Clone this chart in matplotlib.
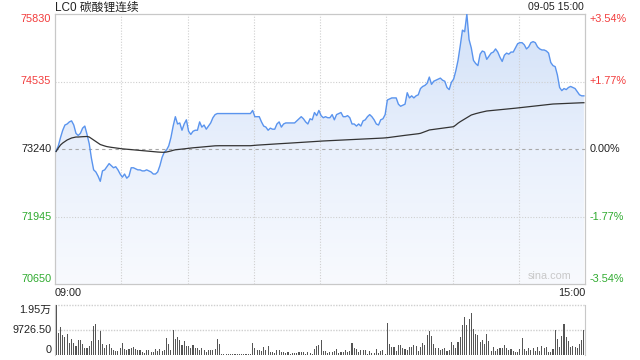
import matplotlib
matplotlib.use('Agg')
import matplotlib.pyplot as plt
import numpy as np
from matplotlib.colors import LinearSegmentedColormap
from matplotlib.patches import Polygon

plt.rcParams['font.family'] = ['Liberation Sans', 'Noto Sans CJK SC', 'DejaVu Sans']

# ---------------- data ----------------
title = "LC0 碳酸锂连续"
date_label = "09-05 15:00"
prev_close = 73240
price_ticks = [70650, 71945, 73240, 74535, 75830]
pct_labels = ["-3.54%", "-1.77%", "0.00%", "+1.77%", "+3.54%"]
time_labels = ["09:00", "15:00"]
vol_ticks = [0, 9726.50, 19453]
vol_labels = ["0", "9726.50", "1.95万"]
watermark = "sina.com"

price = [
    73200, 73300, 73460, 73600, 73700, 73720, 73760, 73780, 73700, 73540,
    73500, 73540, 73640, 73680, 73520, 73340, 73060, 72840, 72800, 72720,
    72620, 72820, 72840, 72900, 72960, 72920, 72880, 72900, 72840, 72760,
    72700, 72760, 72680, 72720, 72880, 72880, 72860, 72840, 72840, 72820,
    72820, 72840, 72820, 72800, 72760, 72760, 72800, 72920, 73080, 73180,
    73220, 73300, 73460, 73680, 73860, 73720, 73740, 73600, 73720, 73800,
    73580, 73520, 73580, 73600, 73600, 73760, 73660, 73700, 73620, 73680,
    73740, 73840, 73900, 73920, 73920, 73920, 73920, 73920, 73920, 73920,
    73920, 73920, 73920, 73920, 73920, 73920, 73920, 73920, 73920, 73980,
    73860, 73860, 73860, 73760, 73680, 73660, 73600, 73640, 73620, 73620,
    73720, 73760, 73660, 73720, 73740, 73740, 73740, 73740, 73740, 73780,
    73820, 73860, 73820, 73760, 73720, 73820, 73800, 73940, 73880, 73980,
    73880, 73840, 73860, 73840, 73840, 73900, 73800, 73900, 73920, 73940,
    73860, 73860, 73880, 73840, 73720, 73720, 73680, 73720, 73680, 73780,
    73800, 73860, 73900, 73860, 73800, 73720, 73700, 73800, 73820, 73900,
    74180, 74200, 74220, 74220, 74220, 74100, 74060, 74080, 74100, 74320,
    74220, 74260, 74220, 74260, 74280, 74400, 74440, 74460, 74500, 74620,
    74480, 74540, 74560, 74580, 74600, 74560, 74540, 74420, 74380, 74520,
    74580, 74740, 74940, 75220, 75520, 75490, 75830, 75340, 75180, 74940,
    74880, 74840, 75060, 75120, 75100, 74960, 75020, 75080, 75100, 75160,
    75100, 75000, 74920, 75040, 75080, 75060, 75100, 75100, 75180, 75260,
    75280, 75280, 75240, 75160, 75200, 75280, 75300, 75280, 75200, 75160,
    75140, 75140, 75120, 75080, 74900, 74840, 74820, 74660, 74420, 74360,
    74400, 74380, 74420, 74440, 74420, 74400, 74340, 74280, 74260, 74260,
]

avg_price = [
    73192, 73259, 73317, 73355, 73384, 73413, 73432, 73451, 73461, 73470,
    73470, 73474, 73476, 73478, 73480, 73470, 73441, 73413, 73384, 73355,
    73326, 73311, 73298, 73286, 73278, 73272, 73266, 73261, 73255, 73249,
    73243, 73240, 73236, 73232, 73228, 73225, 73221, 73217, 73213, 73209,
    73206, 73202, 73198, 73194, 73190, 73186, 73182, 73179, 73177, 73177,
    73182, 73192, 73202, 73215, 73225, 73230, 73236, 73240, 73243, 73247,
    73253, 73259, 73263, 73266, 73270, 73274, 73278, 73282, 73286, 73290,
    73294, 73298, 73301, 73303, 73303, 73303, 73303, 73303, 73303, 73303,
    73303, 73303, 73303, 73303, 73303, 73303, 73303, 73303, 73303, 73307,
    73311, 73314, 73316, 73319, 73322, 73325, 73327, 73330, 73333, 73335,
    73338, 73341, 73343, 73346, 73349, 73351, 73354, 73356, 73359, 73362,
    73364, 73367, 73369, 73372, 73375, 73378, 73381, 73384, 73387, 73389,
    73391, 73394, 73396, 73398, 73400, 73403, 73405, 73407, 73409, 73411,
    73413, 73415, 73417, 73419, 73421, 73424, 73426, 73428, 73430, 73432,
    73434, 73436, 73438, 73440, 73442, 73444, 73446, 73448, 73450, 73453,
    73457, 73462, 73468, 73474, 73480, 73486, 73492, 73497, 73502, 73507,
    73512, 73517, 73522, 73527, 73533, 73541, 73556, 73572, 73588, 73605,
    73611, 73617, 73622, 73628, 73634, 73640, 73645, 73651, 73656, 73662,
    73668, 73700, 73735, 73764, 73790, 73815, 73840, 73866, 73892, 73906,
    73918, 73930, 73940, 73950, 73960, 73969, 73973, 73977, 73982, 73986,
    73990, 73994, 73998, 74002, 74007, 74011, 74015, 74019, 74023, 74028,
    74032, 74037, 74042, 74046, 74051, 74056, 74060, 74065, 74070, 74075,
    74079, 74084, 74089, 74094, 74098, 74103, 74105, 74107, 74109, 74111,
    74113, 74115, 74117, 74118, 74120, 74122, 74124, 74125, 74127, 74128,
]

volume = [
    19453, 8320, 10880, 7550, 6900, 7940, 4480, 6270, 4740, 3460,
    5760, 5630, 4100, 2560, 2560, 3580, 5250, 11260, 11780, 5630,
    9090, 4350, 2820, 3970, 4350, 2560, 1790, 1540, 1540, 2560,
    4480, 2180, 1920, 2300, 2560, 3200, 2180, 1790, 1790, 1150,
    770, 1790, 1790, 1020, 1020, 2180, 1540, 2180, 1540, 1790,
    6660, 4100, 1790, 9470, 6020, 7040, 5630, 3710, 5250, 3330,
    3330, 2820, 3970, 2560, 2560, 1920, 2560, 1790, 1280, 2050,
    2050, 1920, 2180, 6270, 4100, 380, 380, 380, 380, 300,
    300, 300, 300, 500, 500, 500, 500, 500, 500, 4740,
    2820, 1790, 1790, 1410, 3200, 2050, 3580, 1280, 1280, 900,
    1790, 2050, 1020, 1280, 770, 1280, 510, 640, 900, 900,
    1280, 1280, 1280, 510, 1280, 900, 510, 2430, 3580, 3970,
    5890, 1660, 1660, 900, 1280, 1280, 1660, 2430, 900, 1280,
    1280, 2050, 1280, 1660, 4740, 2820, 2430, 1280, 2050, 2050,
    1790, 510, 1660, 900, 900, 2430, 900, 1660, 2050, 510,
    12420, 4350, 3200, 3200, 1660, 3970, 3970, 2820, 2430, 2050,
    3200, 2940, 3970, 3580, 1660, 3200, 4740, 3970, 7810, 9340,
    7420, 4350, 2820, 2820, 2050, 2430, 2820, 1660, 2050, 5120,
    3970, 2820, 5120, 7040, 11650, 14720, 11650, 13950, 16260, 10110,
    8190, 7810, 5120, 5890, 4350, 8190, 5500, 1660, 3200, 1660,
    2430, 2820, 2820, 3970, 2820, 2050, 2430, 1660, 1280, 1280,
    2430, 6660, 2430, 1660, 2820, 2050, 2820, 1660, 3200, 1660,
    3580, 2820, 3200, 1280, 1280, 2430, 9730, 6270, 3200, 7420,
    12030, 7040, 5500, 3200, 3580, 3200, 2820, 4350, 5890, 9730,
]

# ---------------- styling ----------------
RED = '#f23b3b'
GREEN = '#2eaa2e'
BLACK = '#222222'
GRID = '#cfcfcf'
SPINE = '#c8c8c8'
FS = 7.8

fig = plt.figure(figsize=(6.4, 3.6), dpi=100)
fig.patch.set_facecolor('white')
ax = fig.add_axes([55/640, 76/360, 530/640, 270/360])
axv = fig.add_axes([55/640, 5/360, 530/640, 50.5/360])

n = len(price)
x = np.arange(n)
x0, x1 = -0.5, n - 0.5
ymin, ymax = price_ticks[0], price_ticks[-1]

ax.set_xlim(x0, x1)
ax.set_ylim(ymin, ymax)

# gradient area fill under price line
cmap = LinearSegmentedColormap.from_list('g', ['#f8fafe', '#e9f0fc', '#d2e1f8'])
grad = np.linspace(0, 1, 256).reshape(-1, 1)
im = ax.imshow(grad, extent=[x0, x1, ymin, ymax], origin='lower', cmap=cmap,
               aspect='auto', zorder=1, interpolation='bilinear')
verts = np.column_stack([np.r_[x[0], x, x[-1]], np.r_[ymin, price, ymin]])
poly = Polygon(verts, closed=True, facecolor='none', edgecolor='none')
ax.add_patch(poly)
im.set_clip_path(poly)

# grid lines
for yv in price_ticks[1:-1]:
    if yv == prev_close:
        ax.axhline(yv, color='#a8a8a8', lw=0.8, ls=(0, (3, 3)), zorder=2)
    else:
        ax.axhline(yv, color=GRID, lw=0.8, ls=(0, (1, 1.5)), zorder=2)
for k in range(1, 8):
    ax.axvline(k * 30 - 0.5, color=GRID, lw=0.8, ls=(0, (1, 1.5)), zorder=2)

ax.plot(x, price, color='#5a94ee', lw=1.0, zorder=4)
ax.plot(x, avg_price, color='#333333', lw=0.9, zorder=4)

ax.set_xticks([])
ax.set_yticks([])
for s in ax.spines.values():
    s.set_color(SPINE)
    s.set_linewidth(0.9)

# y labels
ytr = ax.get_yaxis_transform()
for i, (yv, pl) in enumerate(zip(price_ticks, pct_labels)):
    if yv > prev_close:
        c = RED
    elif yv < prev_close:
        c = GREEN
    else:
        c = BLACK
    va = 'center'
    if i == 0:
        va = 'bottom'
    elif i == len(price_ticks) - 1:
        va = 'top'
    ax.text(-0.007, yv, str(yv), transform=ytr, ha='right', va=va, color=c, fontsize=FS)
    ax.text(1.009, yv, pl, transform=ytr, ha='left', va=va, color=c, fontsize=FS)

# time labels
ax.text(0.0, -0.015, time_labels[0], transform=ax.transAxes, ha='left', va='top',
        color=BLACK, fontsize=FS)
ax.text(1.0, -0.015, time_labels[1], transform=ax.transAxes, ha='right', va='top',
        color=BLACK, fontsize=FS)

# watermark
ax.text(0.975, 0.012, watermark, transform=ax.transAxes, ha='right', va='bottom',
        color='#c8c8c8', fontsize=FS, zorder=5)

# title and date
fig.text(55/640, 1 - 7.5/360, title, ha='left', va='center', color=BLACK, fontsize=8.5)
fig.text(584/640, 1 - 7.5/360, date_label, ha='right', va='center', color=BLACK, fontsize=7.6)

# ---------------- volume ----------------
axv.set_xlim(x0, x1)
axv.set_ylim(vol_ticks[0], vol_ticks[-1])
axv.bar(x, volume, width=0.5, color='#555555', zorder=3)
for yv in vol_ticks[1:]:
    axv.axhline(yv, color=GRID, lw=1.0, ls=(0, (1, 1)), zorder=1, clip_on=False)
axv.set_xticks([])
axv.set_yticks([])
axv.spines['top'].set_visible(False)
axv.spines['bottom'].set_visible(False)
axv.spines['left'].set_color(SPINE)
axv.spines['right'].set_color(SPINE)
axv.patch.set_alpha(0)

vtr = axv.get_yaxis_transform()
for i, (yv, lab) in enumerate(zip(vol_ticks, vol_labels)):
    va = 'center'
    if i == 0:
        va = 'bottom'
    elif i == len(vol_ticks) - 1:
        va = 'top'
    axv.text(-0.007, yv, lab, transform=vtr, ha='right', va=va, color=BLACK, fontsize=FS)

fig.savefig('out.png', dpi=100, facecolor='white')
